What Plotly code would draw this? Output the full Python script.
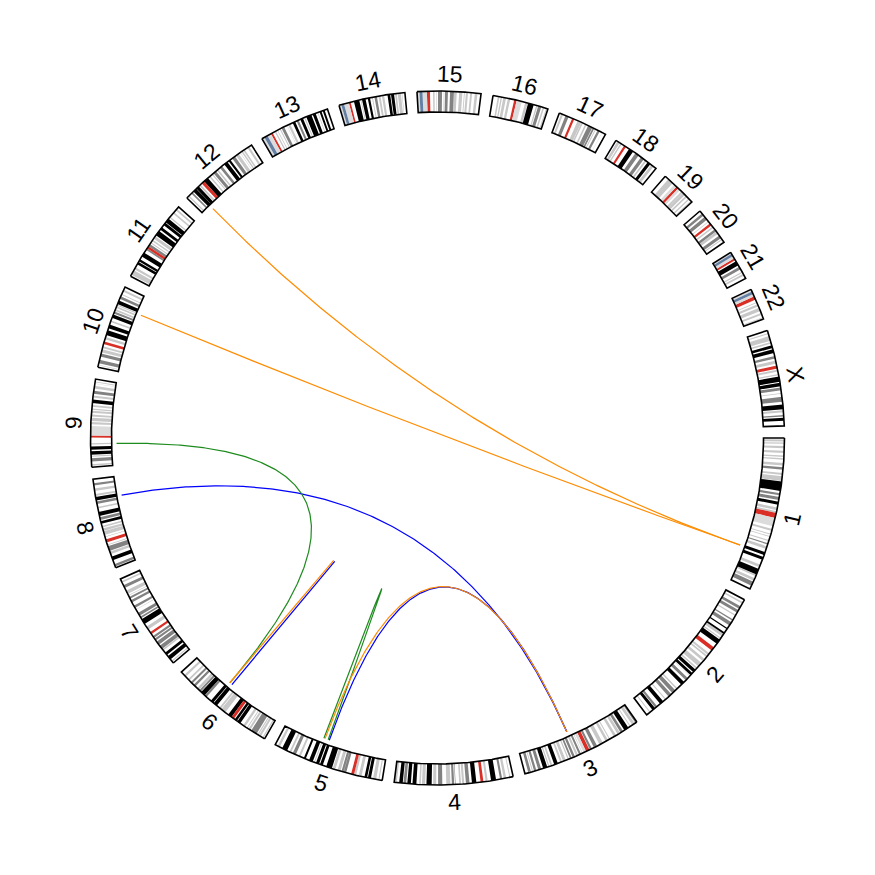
import numpy as np
import plotly.graph_objects as go

# ---------------- data ----------------
CHROMS = ["1", "2", "3", "4", "5", "6", "7", "8", "9", "10", "11", "12",
          "13", "14", "15", "16", "17", "18", "19", "20", "21", "22", "X"]
CHROM_SIZES_MB = [249.25, 243.20, 198.02, 191.15, 180.92, 171.12, 159.14, 146.36,
                  141.21, 135.53, 135.01, 133.85, 115.17, 107.35, 102.53, 90.35,
                  81.20, 78.08, 59.13, 63.03, 48.13, 51.30, 155.27]

# cytobands: "end_Mb:stain" (n=gneg, 25/50/75/100=gpos, a=acen, v=gvar, s=stalk)
BANDS_1 = ("2.3:n 5.4:25 7.2:n 9.2:25 12.7:n 16.2:50 20.4:n 23.9:25 28.0:n 30.2:25 32.4:n 34.6:25 "
           "40.1:n 44.1:25 46.8:n 50.7:75 56.1:n 59.0:50 61.3:n 68.9:50 69.7:n 84.9:100 88.4:n 92.0:75 "
           "94.7:n 99.7:75 102.2:n 107.2:100 111.8:n 116.1:50 117.8:n 120.7:50 128.9:a 142.6:v 147.0:n "
           "150.3:50 155.0:n 156.5:50 159.1:n 160.5:50 165.5:n 167.2:50 170.9:n 172.9:75 176.0:n 180.3:50 "
           "185.8:n 190.8:100 193.8:n 198.7:100 207.2:n 211.5:25 214.5:n 224.1:100 224.6:n 227.0:25 "
           "230.7:n 234.7:50 236.6:n 243.7:75 249.25:n")
BANDS_2 = ("4.4:n 7.1:50 12.2:n 16.7:75 19.2:n 24.0:75 27.9:n 30.0:25 36.6:n 38.6:75 41.6:n 47.6:75 "
           "52.9:n 55.0:100 61.3:n 64.1:100 68.6:50 71.5:n 73.5:50 75.0:n 83.3:100 90.5:n 96.8:a "
           "102.7:n 106.0:50 107.5:n 110.2:25 114.4:n 118.8:50 122.4:n 129.9:50 132.5:n 135.1:25 136.8:n "
           "142.2:100 144.1:n 148.7:100 149.9:n 150.5:25 154.9:n 159.8:75 163.7:n 169.7:100 178.0:n "
           "180.6:50 183.0:n 189.4:75 191.9:n 197.4:75 203.3:n 204.9:50 209.0:n 215.3:100 221.5:n "
           "225.2:75 226.1:n 231.0:100 235.6:n 237.3:50 243.2:n")
BANDS_3 = ("2.8:75 4.0:n 8.7:50 11.8:n 13.3:25 16.4:n 23.9:100 26.4:n 30.9:75 32.1:n 36.5:50 39.4:n "
           "43.7:50 44.2:n 50.6:n 52.3:25 54.4:n 58.6:50 63.7:n 69.8:50 74.2:n 79.8:75 83.5:n 87.2:75 "
           "87.9:n 93.9:a 98.3:v 100.0:n 100.9:25 102.8:n 106.2:75 107.9:n 111.3:50 113.5:n 117.3:75 "
           "119.0:n 121.9:75 123.8:n 125.8:25 129.2:n 133.7:25 135.7:n 138.7:25 142.8:n 148.9:100 "
           "152.1:n 155.0:50 157.0:n 159.0:50 160.7:n 167.6:100 170.9:n 175.7:75 179.0:n 182.7:75 "
           "184.5:n 186.0:25 187.9:n 192.3:75 198.02:n")
BANDS_4 = ("4.5:n 6.0:25 11.3:n 15.2:50 17.8:n 21.3:75 27.7:n 35.8:100 41.2:n 44.6:50 48.2:n 52.7:a "
           "59.5:n 66.6:100 70.5:n 76.3:75 78.9:n 82.4:50 84.1:n 86.9:25 92.8:n 93.7:75 95.1:n 98.8:75 "
           "101.1:n 107.7:50 114.1:n 120.8:75 123.8:n 128.8:50 131.1:n 139.5:100 141.5:n 146.8:25 "
           "148.5:n 151.1:25 155.6:n 161.8:100 164.5:n 170.1:100 171.9:n 176.3:75 177.5:n 183.2:100 "
           "187.1:n 191.15:25")
BANDS_5 = ("4.5:n 6.3:25 9.8:n 15.0:50 18.4:n 23.3:100 24.6:n 28.9:100 33.8:n 38.4:25 42.5:n 46.1:50 "
           "50.7:a 58.9:n 62.9:75 63.2:n 66.7:75 68.4:n 73.3:50 76.9:n 81.4:50 82.8:n 92.3:100 98.2:n "
           "102.8:100 104.5:n 109.6:100 111.5:n 113.1:50 115.2:n 121.4:100 127.3:n 130.6:100 136.2:n "
           "139.5:25 144.5:n 149.8:75 152.7:n 155.7:50 159.9:n 168.5:100 172.8:n 176.6:25 180.92:n")
BANDS_6 = ("2.3:n 4.2:25 7.1:n 10.6:50 11.6:n 13.4:25 15.2:n 25.2:75 27.0:n 30.4:50 32.1:n 33.5:25 "
           "36.6:n 40.5:25 46.2:n 51.8:100 52.9:n 57.0:100 58.7:n 63.3:a 63.4:n 70.0:100 75.9:n 83.9:50 "
           "84.9:n 88.0:50 93.1:n 99.5:100 100.6:n 105.5:100 114.6:n 118.3:75 118.5:n 126.1:100 127.1:n "
           "130.3:75 131.2:n 135.2:50 139.0:n 142.8:75 145.6:n 149.0:75 152.5:n 155.5:50 161.0:n "
           "164.5:50 171.12:n")
BANDS_7 = ("2.8:n 4.5:25 7.3:n 13.8:100 16.5:n 20.9:100 25.5:n 28.0:50 28.8:n 35.0:75 37.2:n 43.3:75 "
           "45.4:n 49.0:75 50.5:n 54.0:75 58.0:n 61.7:a 67.0:n 72.2:50 77.5:n 86.4:100 88.2:n 91.1:75 "
           "92.8:n 98.0:75 103.8:n 104.5:50 107.4:n 111.2:75 117.4:n 121.1:75 123.8:n 127.1:75 129.2:n "
           "130.4:25 132.6:n 138.2:50 143.1:n 147.9:75 152.6:n 155.1:25 159.14:n")
BANDS_8 = ("2.2:n 6.2:75 12.7:n 19.0:100 23.3:n 27.4:50 28.8:n 36.5:75 38.3:n 39.7:25 43.1:n 48.1:a "
           "52.2:n 52.6:75 55.5:n 61.6:50 62.2:n 66.0:50 68.0:n 70.5:50 73.9:n 78.3:100 80.1:n 84.6:75 "
           "86.9:n 93.3:100 99.0:n 101.6:25 106.2:n 110.5:75 112.1:n 117.7:100 119.2:n 122.5:50 127.3:n "
           "131.5:50 136.4:n 139.9:75 146.36:n")
BANDS_9 = ("2.2:n 4.6:25 9.0:n 14.2:75 16.6:n 18.5:25 19.9:n 25.6:100 28.0:n 33.2:100 36.3:n 38.4:25 "
           "41.0:n 43.6:n 47.3:n 50.7:a 65.9:v 68.7:n 72.2:25 74.0:n 79.2:50 81.1:n 84.1:50 86.9:n "
           "90.4:50 91.8:n 93.9:25 96.6:n 99.3:25 102.6:n 108.2:100 111.3:n 114.9:25 117.7:n 122.5:75 "
           "125.8:n 130.3:25 133.5:n 134.0:25 135.9:n 137.4:25 141.21:n")
BANDS_10 = ("3.0:n 3.8:25 6.6:n 12.2:75 17.3:n 18.6:75 18.7:n 22.6:75 24.6:n 29.6:50 31.3:n 34.4:25 "
            "38.0:n 42.3:a 46.1:n 49.9:25 52.9:n 61.2:100 64.5:n 70.6:100 74.9:n 77.7:50 82.0:n "
            "87.9:100 89.5:n 92.9:75 94.1:n 97.0:50 99.3:n 101.9:50 103.0:n 104.9:25 105.8:n 111.9:100 "
            "114.9:n 119.1:75 121.7:n 123.1:50 127.5:n 130.6:50 135.53:n")
BANDS_11 = ("2.8:n 10.7:50 12.7:n 16.2:50 21.7:n 26.1:100 27.2:n 31.0:100 36.4:n 43.5:100 48.8:n "
            "51.6:75 55.7:a 59.9:75 61.7:n 63.4:25 65.9:n 68.4:25 70.4:n 75.2:50 77.1:n 85.6:100 88.3:n "
            "92.8:100 97.2:n 102.1:100 102.9:n 110.4:100 112.5:n 114.5:50 121.2:n 123.9:50 127.8:n "
            "130.8:50 135.01:n")
BANDS_12 = ("3.3:n 5.4:25 10.1:n 12.8:75 14.8:n 20.8:100 21.3:n 26.5:100 27.8:n 30.7:50 33.3:n 38.2:a "
            "46.4:100 49.1:n 51.5:25 54.9:n 56.6:25 58.1:n 63.1:75 65.1:n 67.7:50 71.5:n 75.7:75 80.3:n "
            "86.7:100 89.0:n 92.6:100 96.2:n 101.6:75 103.8:n 109.0:50 111.7:n 112.3:25 114.3:n 116.8:50 "
            "118.1:n 120.7:50 125.9:n 129.3:50 133.85:n")
BANDS_13 = ("4.5:v 10.0:s 16.3:v 19.5:a 23.3:n 25.5:25 27.8:n 28.9:25 32.2:n 34.0:50 35.5:n 40.1:75 "
            "45.2:n 45.8:25 47.3:n 50.9:50 55.3:n 59.6:100 62.3:n 65.7:75 68.6:n 73.3:100 75.4:n 77.2:50 "
            "79.0:n 87.7:100 90.0:n 95.0:100 98.2:n 99.3:25 101.7:n 104.8:100 107.0:n 110.3:100 115.17:n")
BANDS_14 = ("3.7:v 8.1:s 16.1:v 19.1:a 24.6:n 33.3:100 35.3:n 36.6:50 37.8:n 43.5:100 47.2:n 50.9:100 "
            "54.1:n 55.5:25 58.1:n 62.1:75 64.8:n 67.9:50 70.2:n 73.8:50 79.3:n 83.6:100 84.9:n 89.8:100 "
            "91.4:n 94.2:25 95.8:n 100.8:50 102.1:n 103.0:50 107.35:n")
BANDS_15 = ("3.9:v 8.7:s 15.8:v 20.7:a 25.7:n 28.1:50 30.3:n 31.2:50 33.6:n 40.1:75 42.8:n 43.6:25 "
            "44.8:n 49.5:75 52.9:n 59.1:75 59.3:n 63.7:25 67.2:n 67.3:25 67.5:n 72.7:25 75.2:n 76.6:25 "
            "78.3:n 81.7:50 85.2:n 88.3:50 92.7:n 96.8:50 102.53:n")
BANDS_16 = ("7.9:n 10.5:50 12.6:n 14.8:50 16.8:n 21.2:50 24.2:n 28.1:50 34.6:n 38.6:a 47.0:v 52.6:n "
            "56.7:50 57.4:n 66.7:100 70.8:n 72.9:50 74.1:n 79.2:75 81.7:n 84.2:50 87.1:n 88.7:25 90.35:n")
BANDS_17 = ("3.3:n 6.5:50 10.7:n 16.0:75 22.2:n 25.8:a 31.8:n 38.1:50 38.4:n 40.9:25 44.9:n 47.4:25 "
            "50.2:n 57.6:75 58.3:n 61.1:75 62.6:n 64.2:50 67.1:n 70.9:75 74.8:n 75.3:25 81.20:n")
BANDS_18 = ("2.9:n 7.1:25 8.5:n 10.9:25 15.4:n 19.0:a 25.0:n 32.7:100 37.2:n 43.5:75 48.2:n 53.8:75 "
            "56.2:n 59.0:50 61.6:n 66.8:100 68.7:n 73.1:25 78.08:n")
BANDS_19 = ("6.9:n 13.9:25 14.0:n 16.3:25 20.0:n 24.4:v 28.6:a 32.4:v 35.5:n 38.3:25 38.7:n 43.4:25 "
            "45.2:n 48.0:25 51.4:n 53.6:25 56.3:n 59.13:25")
BANDS_20 = ("5.1:n 9.2:75 12.1:n 17.9:75 21.3:n 22.3:25 25.6:n 29.4:a 32.1:n 34.4:25 37.6:n 41.7:75 "
            "42.1:n 46.4:25 49.8:n 55.0:75 56.5:n 58.4:50 63.03:n")
BANDS_21 = ("2.8:v 6.8:s 10.9:v 14.3:a 16.4:n 24.0:100 26.8:n 31.5:75 35.8:n 37.8:50 39.7:n 42.6:50 "
            "48.13:n")
BANDS_22 = ("3.8:v 8.3:s 12.2:v 17.9:a 22.2:n 23.5:25 25.9:n 29.6:50 32.2:n 37.6:50 41.0:n 44.2:50 "
            "48.4:n 49.4:50 51.30:n")
BANDS_X = ("4.3:n 6.0:50 9.5:n 17.1:50 19.3:n 21.9:50 24.9:n 29.3:100 31.5:n 37.6:100 42.4:n 46.4:75 "
           "49.8:n 54.8:25 58.1:n 63.0:a 64.6:n 67.8:50 71.8:n 73.9:50 76.0:n 84.6:100 86.2:n 91.8:100 "
           "93.5:n 98.3:75 102.6:n 103.7:50 108.7:n 116.5:75 120.9:n 128.7:100 130.4:n 133.6:25 138.0:n "
           "140.3:75 142.1:n 147.1:100 155.27:n")
BANDS = [BANDS_1, BANDS_2, BANDS_3, BANDS_4, BANDS_5, BANDS_6, BANDS_7, BANDS_8, BANDS_9,
         BANDS_10, BANDS_11, BANDS_12, BANDS_13, BANDS_14, BANDS_15, BANDS_16, BANDS_17,
         BANDS_18, BANDS_19, BANDS_20, BANDS_21, BANDS_22, BANDS_X]

# links (point-to-point), positions in Mb
LINK_CHR_A = ["8", "5", "6", "9", "5", "12", "10", "5", "6"]
LINK_POS_A = [113.4, 101.8, 96.0, 37.4, 111.7, 17.8, 103.6, 109.7, 100.7]
LINK_CHR_B = ["3", "3", "6", "6", "5", "1", "1", "3", "6"]
LINK_POS_B = [109.5, 109.5, 96.2, 100.7, 103.8, 188.4, 188.4, 109.5, 100.9]
LINK_GROUP = ["blue", "blue", "blue", "green", "green", "orange", "orange", "orange", "orange"]

# ---------------- styles ----------------
STAIN_COLORS = {"n": "#FFFFFF", "25": "#C8C8C8", "50": "#C8C8C8", "75": "#828282",
                "100": "#000000", "a": "#D92F27", "v": "#DCDCDC", "s": "#647FA4"}
GROUP_COLORS = {"orange": "#FF8C00", "green": "#1E8B1E", "blue": "#0000FF"}
GAP_DEG = 2.0
R_OUT, R_IN, R_LINK, R_LABEL = 347.0, 326.0, 321.0, 364.0

total = sum(CHROM_SIZES_MB)
deg_per_mb = (360.0 - GAP_DEG * len(CHROMS)) / total
chrom_start = {}
acc = 0.0
for i, (c, s) in enumerate(zip(CHROMS, CHROM_SIZES_MB)):
    chrom_start[c] = acc * deg_per_mb + i * GAP_DEG
    acc += s
chrom_size = dict(zip(CHROMS, CHROM_SIZES_MB))


def ang(c, pos):
    return chrom_start[c] + pos * deg_per_mb


def xy(theta_deg, r):
    t = np.deg2rad(theta_deg)
    return r * np.cos(t), -r * np.sin(t)


def sector(a0, a1, r0, r1):
    n = max(2, int(abs(a1 - a0) / 0.3) + 2)
    th = np.linspace(a0, a1, n)
    xo, yo = xy(th, r1)
    xi, yi = xy(th[::-1], r0)
    xs = list(xo) + list(xi) + [xo[0]]
    ys = list(yo) + list(yi) + [yo[0]]
    return xs, ys


fig = go.Figure()

# bands grouped by colour
poly = {k: ([], []) for k in STAIN_COLORS}
for c, bstr in zip(CHROMS, BANDS):
    prev = 0.0
    for tok in bstr.split():
        e, st = tok.split(":")
        e = min(float(e), chrom_size[c])
        if e > prev:
            xs, ys = sector(ang(c, prev), ang(c, e), R_IN, R_OUT)
            poly[st][0].extend(xs + [None])
            poly[st][1].extend(ys + [None])
        prev = e

for st, (xs, ys) in poly.items():
    if not xs:
        continue
    fig.add_trace(go.Scatter(x=xs, y=ys, mode="lines", fill="toself",
                             fillcolor=STAIN_COLORS[st], line=dict(width=0),
                             hoverinfo="skip", showlegend=False))

# chromosome outlines
ox, oy = [], []
for c in CHROMS:
    xs, ys = sector(ang(c, 0), ang(c, chrom_size[c]), R_IN, R_OUT)
    ox.extend(xs + [None])
    oy.extend(ys + [None])
fig.add_trace(go.Scatter(x=ox, y=oy, mode="lines", line=dict(color="black", width=1.6),
                         hoverinfo="skip", showlegend=False))

# links: quadratic Bezier with control point at circle centre
t = np.linspace(0, 1, 240)
for ca, pa, cb, pb, g in zip(LINK_CHR_A, LINK_POS_A, LINK_CHR_B, LINK_POS_B, LINK_GROUP):
    x1, y1 = xy(ang(ca, pa), R_LINK)
    x2, y2 = xy(ang(cb, pb), R_LINK)
    bx = (1 - t) ** 2 * x1 + t ** 2 * x2
    by = (1 - t) ** 2 * y1 + t ** 2 * y2
    fig.add_trace(go.Scatter(x=bx, y=by, mode="lines",
                             line=dict(color=GROUP_COLORS[g], width=1.2),
                             hoverinfo="skip", showlegend=False))

# labels
for c in CHROMS:
    mid = ang(c, chrom_size[c] / 2)
    x, y = xy(mid, R_LABEL)
    m = mid % 360
    if 0 < m < 180:
        rot = m - 90
    else:
        rot = m + 90
    rot = (rot + 180) % 360 - 180
    fig.add_annotation(x=x, y=y, text=c, showarrow=False, textangle=rot,
                       xanchor="center", yanchor="middle",
                       font=dict(family="Liberation Sans, Arial, sans-serif", size=23, color="black"))

H = 437.5
fig.update_layout(width=875, height=875, margin=dict(l=0, r=0, t=0, b=0),
                  paper_bgcolor="white", plot_bgcolor="white", showlegend=False,
                  xaxis=dict(range=[-H, H], visible=False, fixedrange=True),
                  yaxis=dict(range=[-H + 0.5, H + 0.5], visible=False, fixedrange=True,
                             scaleanchor="x", scaleratio=1))
fig.write_html("out.html")
